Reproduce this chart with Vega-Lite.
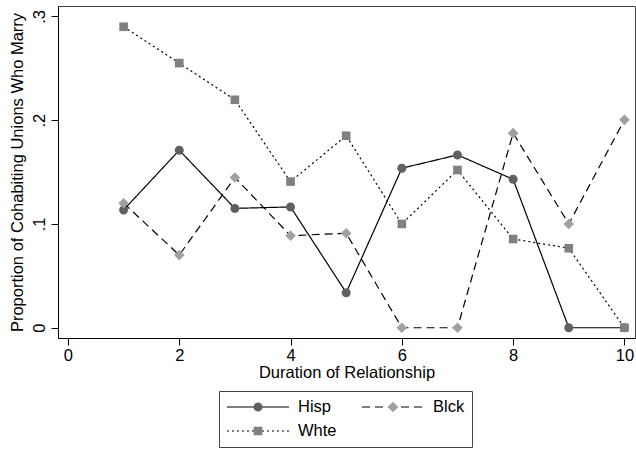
{
  "$schema": "https://vega.github.io/schema/vega-lite/v6.json",
  "width": 577,
  "height": 332,
  "autosize": "none",
  "padding": {"left": 58, "top": 6, "right": 1, "bottom": 111},
  "background": "white",
  "config": {
    "font": "Liberation Sans",
    "view": {"stroke": "#444", "strokeWidth": 1},
    "axis": {
      "grid": false,
      "domainColor": "black",
      "tickColor": "black",
      "domainWidth": 1,
      "tickWidth": 1,
      "tickSize": 7,
      "labelFont": "Liberation Sans",
      "labelFontSize": 16.5,
      "labelColor": "black",
      "titleFont": "Liberation Sans",
      "titleFontSize": 16.5,
      "titleFontWeight": "normal",
      "titleColor": "black"
    }
  },
  "data": {
    "values": [
      {"d": 1, "Hisp": 0.1135, "Blck": 0.120, "Whte": 0.290},
      {"d": 2, "Hisp": 0.171, "Blck": 0.070, "Whte": 0.255},
      {"d": 3, "Hisp": 0.115, "Blck": 0.1447, "Whte": 0.2196},
      {"d": 4, "Hisp": 0.1164, "Blck": 0.0887, "Whte": 0.1408},
      {"d": 5, "Hisp": 0.0338, "Blck": 0.091, "Whte": 0.185},
      {"d": 6, "Hisp": 0.1537, "Blck": 0.0, "Whte": 0.100},
      {"d": 7, "Hisp": 0.1665, "Blck": 0.0, "Whte": 0.152},
      {"d": 8, "Hisp": 0.143, "Blck": 0.1875, "Whte": 0.0855},
      {"d": 9, "Hisp": 0.0, "Blck": 0.100, "Whte": 0.0766},
      {"d": 10, "Hisp": 0.0, "Blck": 0.2003, "Whte": 0.0}
    ]
  },
  "encoding": {
    "x": {
      "field": "d",
      "type": "quantitative",
      "scale": {"domain": [-0.179, 10.19], "nice": false, "zero": false},
      "axis": {
        "values": [0, 2, 4, 6, 8, 10],
        "title": "Duration of Relationship",
        "labelPadding": 2,
        "titlePadding": 1
      }
    },
    "y": {
      "field": "p",
      "type": "quantitative",
      "scale": {"domain": [-0.0099, 0.31], "nice": false, "zero": false},
      "axis": {
        "values": [0, 0.1, 0.2, 0.3],
        "labelExpr": "datum.value == 0 ? '0' : replace(format(datum.value, '.1f'), '0.', '.')",
        "labelAngle": -90,
        "labelPadding": 4,
        "title": "Proportion of Cohabiting Unions Who Marry",
        "titlePadding": 6
      }
    }
  },
  "layer": [
    {
      "transform": [{"fold": ["Hisp", "Blck", "Whte"], "as": ["series", "p"]}],
      "mark": {"type": "line", "color": "black", "strokeWidth": 1.2},
      "encoding": {
        "strokeDash": {
          "field": "series",
          "type": "nominal",
          "scale": {"domain": ["Hisp", "Blck", "Whte"], "range": [[1, 0], [8, 5], [2, 3]]},
          "legend": {
            "title": null,
            "orient": "none",
            "direction": "horizontal",
            "legendX": 161,
            "legendY": 385,
            "columns": 2,
            "columnPadding": 24,
            "rowPadding": 6,
            "padding": 7,
            "clipHeight": 18,
            "strokeColor": "#444",
            "fillColor": "white",
            "symbolType": "stroke",
            "symbolSize": 3844,
            "symbolStrokeWidth": 1.1,
            "symbolStrokeColor": "black",
            "labelFont": "Liberation Sans",
            "labelFontSize": 16.5,
            "labelColor": "black",
            "labelOffset": 8,
            "zindex": 1
          }
        }
      }
    },
    {
      "transform": [{"fold": ["Hisp", "Blck", "Whte"], "as": ["grp", "p"]}],
      "mark": {"type": "point", "filled": true, "opacity": 1, "size": 3844, "strokeWidth": 0},
      "encoding": {
        "color": {
          "field": "grp",
          "type": "nominal",
          "scale": {"domain": ["Hisp", "Blck", "Whte", " "], "range": ["#606060", "#a0a0a0", "#808080", "transparent"]},
          "legend": {
            "title": null,
            "orient": "none",
            "direction": "horizontal",
            "legendX": 161,
            "legendY": 385,
            "columns": 2,
            "columnPadding": 24,
            "rowPadding": 6,
            "padding": 7,
            "clipHeight": 18,
            "symbolSize": 3844,
            "symbolStrokeWidth": 1.1,
            "symbolStrokeColor": "transparent",
            "symbolOpacity": 1,
            "labelFont": "Liberation Sans",
            "labelFontSize": 16.5,
            "labelColor": "transparent",
            "labelOffset": 8,
            "zindex": 2
          }
        },
        "shape": {
          "field": "grp",
          "type": "nominal",
          "scale": {"domain": ["Hisp", "Blck", "Whte", " "], "range": [
            "M-1,0M1,0M0.145,0A0.145,0.145,0,1,1,-0.145,0A0.145,0.145,0,1,1,0.145,0Z",
            "M-1,0M1,0M0,-0.171L0.171,0L0,0.171L-0.171,0Z",
            "M-1,0M1,0M-0.139,-0.139H0.139V0.139H-0.139Z",
            "M-1,0M1,0"
          ]},
          "legend": {
            "title": null,
            "orient": "none",
            "direction": "horizontal",
            "legendX": 161,
            "legendY": 385,
            "columns": 2,
            "columnPadding": 24,
            "rowPadding": 6,
            "padding": 7,
            "clipHeight": 18,
            "symbolSize": 3844,
            "symbolStrokeWidth": 1.1,
            "symbolStrokeColor": "transparent",
            "symbolOpacity": 1,
            "labelFont": "Liberation Sans",
            "labelFontSize": 16.5,
            "labelColor": "transparent",
            "labelOffset": 8,
            "zindex": 2
          }
        }
      }
    }
  ]
}
